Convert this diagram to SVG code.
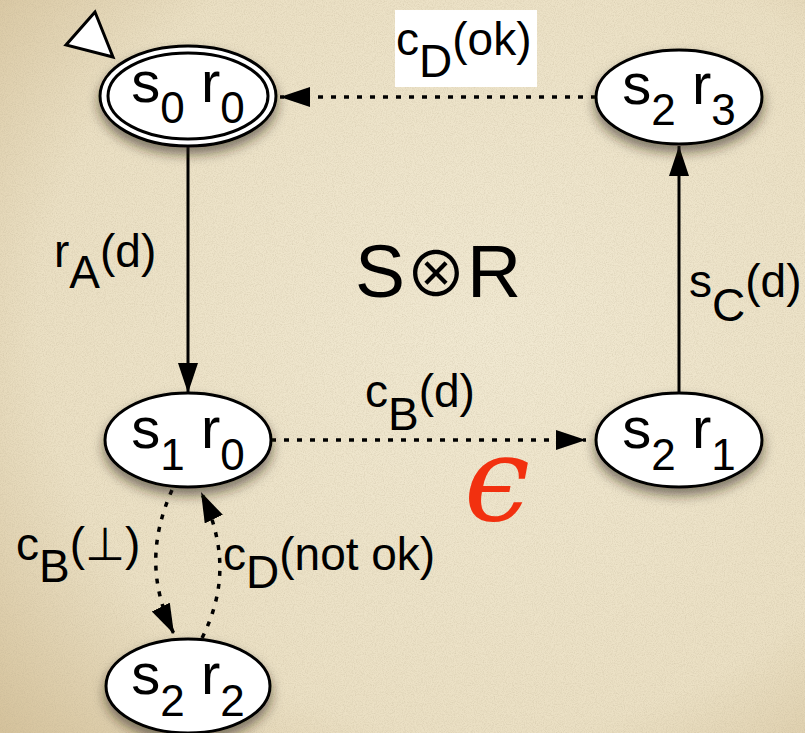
<svg xmlns="http://www.w3.org/2000/svg" width="805" height="733" viewBox="0 0 805 733">
<defs>
<radialGradient id="bg" cx="0.6" cy="0.45" r="0.85">
<stop offset="0" stop-color="#f1e9d2"/>
<stop offset="0.65" stop-color="#ebe0c4"/>
<stop offset="1" stop-color="#d2be96"/>
</radialGradient>
<filter id="tex" x="0" y="0" width="100%" height="100%">
<feTurbulence type="fractalNoise" baseFrequency="0.9" numOctaves="3" seed="4" result="n"/>
<feColorMatrix in="n" type="matrix" values="0 0 0 0 0.45  0 0 0 0 0.38  0 0 0 0 0.25  0 0 0 -0.9 0.55" result="c"/>
<feComposite in="c" in2="SourceGraphic" operator="in"/>
</filter>
<filter id="sh" x="-30%" y="-30%" width="160%" height="180%">
<feDropShadow dx="0" dy="7" stdDeviation="6" flood-color="#2a1e0a" flood-opacity="0.55"/>
</filter>
<marker id="ah" markerUnits="userSpaceOnUse" markerWidth="32" markerHeight="22" refX="30" refY="10" orient="auto">
<path d="M0,0 L30,10 L0,20 Z" fill="#000"/>
</marker>
<style>
.node ellipse{fill:#fff;stroke:#000;stroke-width:3}
.nt{font-family:"Liberation Sans",Arial,sans-serif;font-size:58px;fill:#000;text-anchor:middle}
.sub{font-size:44px}
.lbl{font-family:"Liberation Sans",Arial,sans-serif;font-size:46px;fill:#000}
.solid{fill:none;stroke:#000;stroke-width:3;marker-end:url(#ah)}
.dot{fill:none;stroke:#000;stroke-width:3.5;stroke-dasharray:5 8;marker-end:url(#ah)}
</style>
</defs>
<rect width="805" height="733" fill="url(#bg)"/>
<rect width="805" height="733" fill="#fff" filter="url(#tex)" opacity="0.6"/>

<g id="connectors">
<path class="solid" d="M188,146 L188,393"/>
<path class="solid" d="M679,393 L679,146"/>
<path class="dot" d="M596,97 L280,97"/>
<path class="dot" d="M271,440 L586,440"/>
<path class="dot" d="M172,490 C150,540 150,585 174,634"/>
<path class="dot" d="M202,638 C226,590 226,545 201,492"/>
</g>

<g id="labels">
<rect x="395" y="10" width="142" height="77" fill="#fff"/>
<text class="lbl" x="396" y="55">c<tspan dy="22">D</tspan><tspan dy="-22">(ok)</tspan></text>
<text class="lbl" x="54" y="267">r<tspan dy="21">A</tspan><tspan dy="-21">(d)</tspan></text>
<text class="lbl" x="689" y="297">s<tspan dy="24">C</tspan><tspan dy="-24">(d)</tspan></text>
<text class="lbl" x="365" y="407">c<tspan dy="23">B</tspan><tspan dy="-23">(d)</tspan></text>
<text class="lbl" x="16" y="560">c<tspan dy="22">B</tspan><tspan dy="-22">(⊥)</tspan></text>
<text class="lbl" x="223" y="570">c<tspan dy="18">D</tspan><tspan dy="-18">(not ok)</tspan></text>
<text x="438" y="297" font-family="'Liberation Sans',Arial,sans-serif" font-size="75" text-anchor="middle" fill="#000">S<tspan font-size="62" font-family="'Noto Sans CJK JP','DejaVu Sans',sans-serif">⊗</tspan>R</text>
<text x="497" y="520" font-family="'DejaVu Serif','Liberation Serif',serif" font-style="italic" font-size="118" text-anchor="middle" fill="#f2300f">ϵ</text>
</g>

<g id="start">
<polygon points="95,12 66,45 113,57" fill="#fff" stroke="#000" stroke-width="3" stroke-linejoin="miter"/>
</g>

<g id="s0r0" class="node">
<ellipse cx="188" cy="96" rx="88" ry="50" filter="url(#sh)"/>
<ellipse cx="188" cy="96" rx="80" ry="43"/>
<text class="nt" x="188" y="102">s<tspan class="sub" dy="21">0</tspan><tspan dy="-21"> r</tspan><tspan class="sub" dy="21">0</tspan></text>
</g>
<g id="s2r3" class="node">
<ellipse cx="679" cy="97" rx="83" ry="47" filter="url(#sh)"/>
<text class="nt" x="679" y="104">s<tspan class="sub" dy="21">2</tspan><tspan dy="-21"> r</tspan><tspan class="sub" dy="21">3</tspan></text>
</g>
<g id="s1r0" class="node">
<ellipse cx="188" cy="440" rx="83" ry="47" filter="url(#sh)"/>
<text class="nt" x="188" y="448">s<tspan class="sub" dy="22">1</tspan><tspan dy="-22"> r</tspan><tspan class="sub" dy="22">0</tspan></text>
</g>
<g id="s2r1" class="node">
<ellipse cx="679" cy="440" rx="83" ry="47" filter="url(#sh)"/>
<text class="nt" x="679" y="448">s<tspan class="sub" dy="22">2</tspan><tspan dy="-22"> r</tspan><tspan class="sub" dy="22">1</tspan></text>
</g>
<g id="s2r2" class="node">
<ellipse cx="188" cy="686" rx="82" ry="47" filter="url(#sh)"/>
<text class="nt" x="188" y="694">s<tspan class="sub" dy="22">2</tspan><tspan dy="-22"> r</tspan><tspan class="sub" dy="22">2</tspan></text>
</g>
</svg>
